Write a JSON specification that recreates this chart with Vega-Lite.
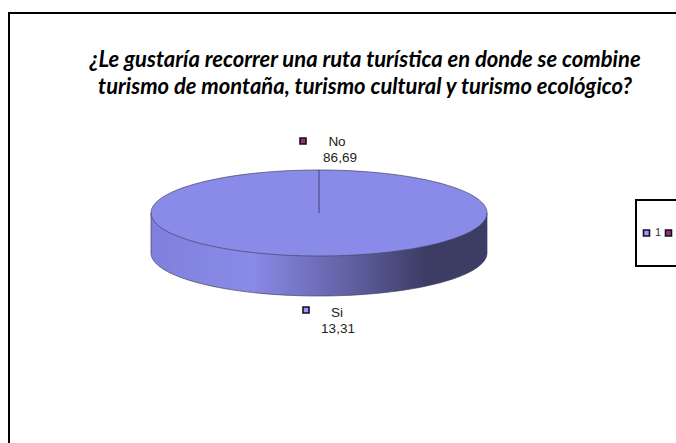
{
"$schema":"https://vega.github.io/schema/vega-lite/v6.json",
"width":680,"height":440,
"autosize":{"type":"none"},
"padding":{"left":9,"top":13,"right":0,"bottom":0},
"background":"white",
"title":{"text":["¿Le gustaría recorrer una ruta turística en donde se combine","turismo de montaña, turismo cultural  y turismo ecológico?"],"font":"Lato","fontStyle":"italic","fontWeight":"bold","fontSize":22,"lineHeight":27,"color":"black","anchor":"middle","frame":"group","dx":16,"offset":-86,"baseline":"top"},
"config":{"view":{"stroke":"black","strokeWidth":2},"legend":{"strokeWidth":2}},
"data":{"values":[
{"label":"No","value":86.69,"text":"86,69","serie":"2"},
{"label":"Si","value":13.31,"text":"13,31","serie":"1"}
]},
"resolve":{"scale":{"x":"independent","y":"independent","color":"independent"}},
"layer":[
{"transform":[{"aggregate":[{"op":"sum","field":"value","as":"total"}]}],
 "mark":{"type":"point","filled":true,"opacity":1,"size":112896,"shape":"M-1,0 L-1,0.238 A1,0.256 0 0,0 1,0.238 L1,0 Z","stroke":"#444466","strokeWidth":0.7,
  "color":{"gradient":"linear","x1":0,"y1":0,"x2":1,"y2":0,"stops":[{"offset":0,"color":"#8080dc"},{"offset":0.3,"color":"#8a8ae8"},{"offset":0.6,"color":"#5f5fa0"},{"offset":0.82,"color":"#3c3c64"},{"offset":1,"color":"#3c3c64"}]}},
 "encoding":{"x":{"datum":0,"type":"quantitative","scale":{"domain":[-1,1],"range":[142,478]},"axis":null},"y":{"datum":0,"type":"quantitative","scale":{"domain":[-1,1],"range":[243,157]},"axis":null}}},
{"transform":[{"aggregate":[{"op":"sum","field":"value","as":"total"}]}],
 "mark":{"type":"point","filled":true,"opacity":1,"size":112896,"shape":"M-1,0 A1,0.256 0 1,1 1,0 A1,0.256 0 1,1 -1,0 Z","color":"#8a8ae8","stroke":"#444466","strokeWidth":0.7},
 "encoding":{"x":{"datum":0,"type":"quantitative","scale":{"domain":[-1,1],"range":[142,478]},"axis":null},"y":{"datum":0,"type":"quantitative","scale":{"domain":[-1,1],"range":[243,157]},"axis":null}}},
{"transform":[{"aggregate":[{"op":"sum","field":"value","as":"total"}]}],
 "mark":{"type":"rule","color":"#444466","strokeWidth":1},
 "encoding":{"x":{"datum":0,"type":"quantitative","scale":{"domain":[-1,1],"range":[142,478]},"axis":null},"y":{"datum":0,"type":"quantitative","scale":{"domain":[-1,1],"range":[243,157]},"axis":null},"y2":{"datum":1}}},
{"mark":{"type":"text","font":"Liberation Sans","fontSize":13.5,"color":"#222222","dy":-8,"baseline":"middle"},
 "encoding":{"text":{"field":"label"},"x":{"field":"label","type":"nominal","scale":{"type":"point","padding":0,"domain":["No","Si"],"range":[328,328]},"axis":null},"y":{"field":"label","type":"nominal","scale":{"type":"point","padding":0,"domain":["No","Si"],"range":[137,308]},"axis":null}}},
{"mark":{"type":"text","font":"Liberation Sans","fontSize":13.5,"color":"#222222","dy":8,"baseline":"middle"},
 "encoding":{"text":{"field":"text"},"x":{"field":"label","type":"nominal","scale":{"type":"point","padding":0,"domain":["No","Si"],"range":[331,329]},"axis":null},"y":{"field":"label","type":"nominal","scale":{"type":"point","padding":0,"domain":["No","Si"],"range":[137,308]},"axis":null}}},
{"mark":{"type":"point","filled":true,"opacity":1,"shape":"square","size":36,"stroke":"#111122","strokeWidth":1.6},
 "encoding":{"x":{"field":"label","type":"nominal","scale":{"type":"point","padding":0,"domain":["No","Si"],"range":[294,297]},"axis":null},"y":{"field":"label","type":"nominal","scale":{"type":"point","padding":0,"domain":["No","Si"],"range":[128,297]},"axis":null},
 "color":{"field":"serie","type":"nominal","scale":{"domain":["1","2"],"range":["#9999ff","#993366"]},
  "legend":{"orient":"none","legendX":627,"legendY":187,"direction":"horizontal","columns":2,"title":null,"strokeColor":"black","padding":5,"clipHeight":56,"symbolType":"square","symbolSize":36,"symbolStrokeColor":"#111122","symbolStrokeWidth":1.6,"symbolOpacity":1,"labelFont":"Liberation Sans","labelFontSize":11,"labelColor":"#333333","labelOffset":3,"columnPadding":1}}}}
]
}
